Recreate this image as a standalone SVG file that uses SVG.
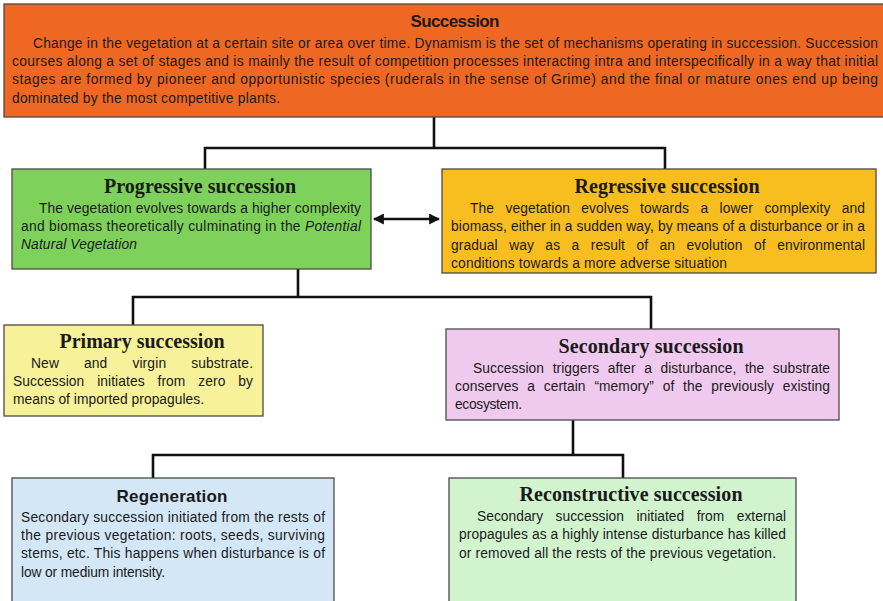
<svg xmlns="http://www.w3.org/2000/svg" width="883" height="601" viewBox="0 0 883 601">
<defs>
<style>
.box{stroke:#4a4a4a;stroke-width:1.3}
.t{font-family:"Liberation Sans",Arial,sans-serif;font-size:13.8px;fill:#1a1a1a}
.hs{font-family:"Liberation Sans",Arial,sans-serif;font-weight:bold;font-size:17px;fill:#1a1a1a;text-anchor:middle}
.hr{font-family:"Liberation Serif","Times New Roman",serif;font-weight:bold;font-size:20px;fill:#1a1a1a;text-anchor:middle}
.c{fill:none;stroke:#111;stroke-width:2.6}
</style>
<marker id="ah" viewBox="0 0 10 10" refX="9" refY="5" markerWidth="11" markerHeight="11" markerUnits="userSpaceOnUse" orient="auto-start-reverse">
<path d="M0,0 L10,5 L0,10 Z" fill="#111"/>
</marker>
</defs>
<rect width="883" height="601" fill="#fff"/>

<g id="connectors">
<path class="c" d="M434 117 V148 M205 169 V148 H665 V169"/>
<path class="c" d="M298 269 V297 M133 325 V297 H651 V329"/>
<path class="c" d="M573 420 V455 M153 478 V455 H623 V478"/>
<line class="c" x1="374" y1="219" x2="439" y2="219" marker-start="url(#ah)" marker-end="url(#ah)"/>
</g>

<g id="succession">
<rect class="box" x="4" y="4" width="884" height="113" fill="#EE6823"/>
<text class="hs" x="455" y="27" textLength="89">Succession</text>
<text class="t" x="33" y="48" textLength="845" lengthAdjust="spacing">Change in the vegetation at a certain site or area over time. Dynamism is the set of mechanisms operating in succession. Succession</text>
<text class="t" x="12" y="66" textLength="866" lengthAdjust="spacing">courses along a set of stages and is mainly the result of competition processes interacting intra and interspecifically in a way that initial</text>
<text class="t" x="12" y="84" textLength="866" lengthAdjust="spacing">stages are formed by pioneer and opportunistic species (ruderals in the sense of Grime) and the final or mature ones end up being</text>
<text class="t" x="12" y="103" textLength="268" lengthAdjust="spacing">dominated by the most competitive plants.</text>
</g>

<g id="progressive">
<rect class="box" x="12" y="169" width="359" height="100" fill="#7ED25B"/>
<text class="hr" x="200" y="193" textLength="192">Progressive succession</text>
<text class="t" x="39" y="213" textLength="322" lengthAdjust="spacing">The vegetation evolves towards a higher complexity</text>
<text class="t" x="21" y="231" textLength="340" lengthAdjust="spacing">and biomass theoretically culminating in the <tspan font-style="italic">Potential</tspan></text>
<text class="t" x="21" y="249" font-style="italic" textLength="116" lengthAdjust="spacing">Natural Vegetation</text>
</g>

<g id="regressive">
<rect class="box" x="442" y="169" width="434" height="104" fill="#F8BD1E"/>
<text class="hr" x="667" y="193" textLength="185">Regressive succession</text>
<text class="t" x="470" y="213" word-spacing="7.5" textLength="395" lengthAdjust="spacing">The vegetation evolves towards a lower complexity and</text>
<text class="t" x="451" y="231" textLength="414" lengthAdjust="spacing">biomass, either in a sudden way, by means of a disturbance or in a</text>
<text class="t" x="451" y="250" word-spacing="7.5" textLength="414" lengthAdjust="spacing">gradual way as a result of an evolution of environmental</text>
<text class="t" x="451" y="268" textLength="276" lengthAdjust="spacing">conditions towards a more adverse situation</text>
</g>

<g id="primary">
<rect class="box" x="4" y="325" width="259" height="91" fill="#F7F19A"/>
<text class="hr" x="142" y="348" textLength="165">Primary succession</text>
<text class="t" x="31" y="368" word-spacing="21" textLength="222" lengthAdjust="spacing">New and virgin substrate.</text>
<text class="t" x="13" y="386" word-spacing="9" textLength="240" lengthAdjust="spacing">Succession initiates from zero by</text>
<text class="t" x="13" y="404" textLength="191" lengthAdjust="spacing">means of imported propagules.</text>
</g>

<g id="secondary">
<rect class="box" x="446" y="329" width="393" height="91" fill="#EFC9EE"/>
<text class="hr" x="651" y="353" textLength="185">Secondary succession</text>
<text class="t" x="473" y="373" word-spacing="4.7" textLength="357" lengthAdjust="spacing">Succession triggers after a disturbance, the substrate</text>
<text class="t" x="455" y="391" word-spacing="4.9" textLength="375" lengthAdjust="spacing">conserves a certain “memory” of the previously existing</text>
<text class="t" x="455" y="409" textLength="67" lengthAdjust="spacing">ecosystem.</text>
</g>

<g id="regeneration">
<rect class="box" x="12" y="478" width="322" height="130" fill="#D3E7F6"/>
<text class="hs" x="172" y="502" textLength="111">Regeneration</text>
<text class="t" x="21" y="522" textLength="304" lengthAdjust="spacing">Secondary succession initiated from the rests of</text>
<text class="t" x="21" y="540" textLength="304" lengthAdjust="spacing">the previous vegetation: roots, seeds, surviving</text>
<text class="t" x="21" y="558" textLength="304" lengthAdjust="spacing">stems, etc. This happens when disturbance is of</text>
<text class="t" x="21" y="577" textLength="144" lengthAdjust="spacing">low or medium intensity.</text>
</g>

<g id="reconstructive">
<rect class="box" x="449" y="478" width="347" height="130" fill="#D1F4CE"/>
<text class="hr" x="631" y="501" textLength="223">Reconstructive succession</text>
<text class="t" x="477" y="521" word-spacing="8.6" textLength="309" lengthAdjust="spacing">Secondary succession initiated from external</text>
<text class="t" x="459" y="539" textLength="327" lengthAdjust="spacing">propagules as a highly intense disturbance has killed</text>
<text class="t" x="459" y="558" textLength="317" lengthAdjust="spacing">or removed all the rests of the previous vegetation.</text>
</g>
</svg>
